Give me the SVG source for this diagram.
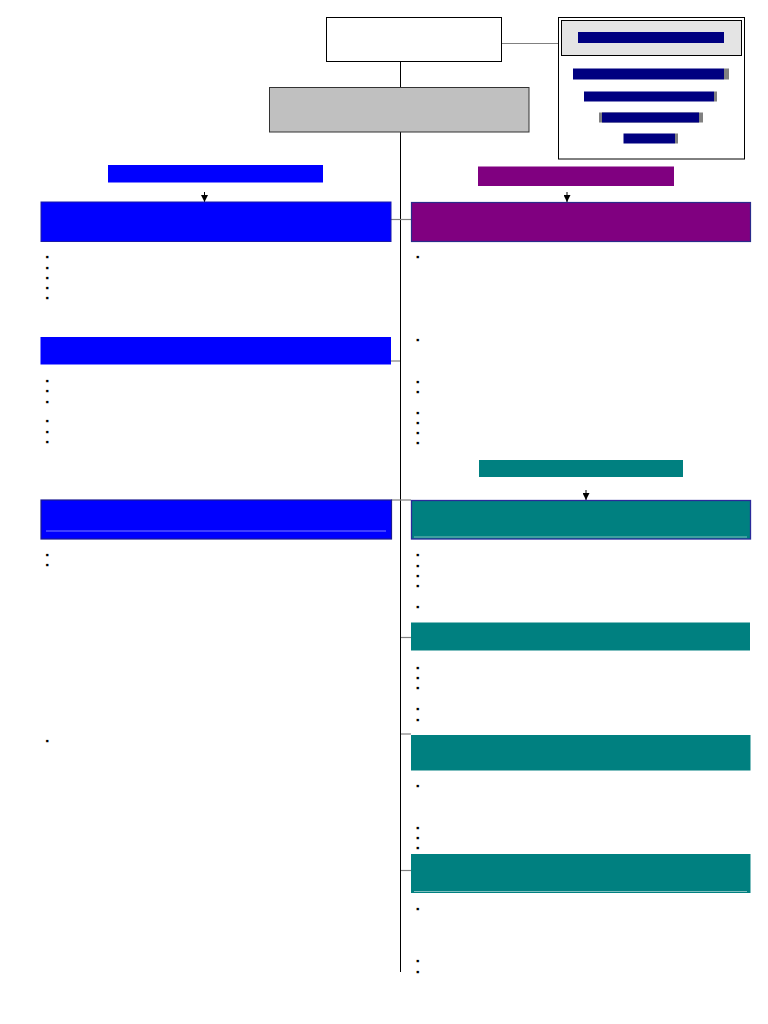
<svg xmlns="http://www.w3.org/2000/svg" width="768" height="1024" viewBox="0 0 768 1024">
<style>
.conn{stroke:#000;stroke-width:1;fill:none}
.gconn{stroke:#808080;stroke-width:1.2;fill:none}
.blue{fill:#0000ff}
.purple{fill:#800080}
.teal{fill:#008080}
.navy{fill:#000080}
.shadow{fill:#808080}
.b{font-family:"Liberation Sans",Arial,sans-serif;font-size:9.5px;fill:#000}
</style>
<defs>
<marker id="ah" viewBox="0 0 10 10" refX="10" refY="5" markerWidth="7" markerHeight="7" markerUnits="userSpaceOnUse" orient="auto">
<path d="M0,0 L10,5 L0,10 z" fill="#000"/>
</marker>
</defs>
<rect width="768" height="1024" fill="#fff"/>

<g id="connectors">
<line class="conn" x1="400.5" y1="61" x2="400.5" y2="87"/>
<line class="conn" x1="400.5" y1="132" x2="400.5" y2="972"/>
<line class="gconn" x1="501" y1="43.5" x2="558" y2="43.5"/>
<line class="gconn" x1="391" y1="219.5" x2="411" y2="219.5"/>
<line class="gconn" x1="391" y1="361" x2="400" y2="361"/>
<line class="gconn" x1="391" y1="500" x2="411" y2="500"/>
<line class="gconn" x1="401" y1="637.5" x2="411" y2="637.5"/>
<line class="gconn" x1="401" y1="734" x2="411" y2="734"/>
<line class="gconn" x1="401" y1="870.5" x2="411" y2="870.5"/>
<line class="conn" x1="204.5" y1="192" x2="204.5" y2="202" marker-end="url(#ah)"/>
<line class="conn" x1="567" y1="192" x2="567" y2="202" marker-end="url(#ah)"/>
<line class="conn" x1="586" y1="490" x2="586" y2="500" marker-end="url(#ah)"/>
</g>

<g id="top">
<rect x="326.5" y="17.5" width="175" height="44" fill="#fff" stroke="#000" stroke-width="1"/>
</g>

<g id="legend">
<rect x="558.5" y="17.5" width="186" height="141.5" fill="#fff" stroke="#000" stroke-width="1"/>
<rect x="561.5" y="20.5" width="180" height="35" fill="#e4e4e4" stroke="#000" stroke-width="1"/>
<rect class="navy" x="578" y="32" width="146" height="11"/>
<rect class="shadow" x="724" y="68.5" width="5" height="11"/>
<rect class="navy" x="573" y="68.5" width="151" height="11"/>
<rect class="shadow" x="714" y="91.5" width="3" height="10"/>
<rect class="navy" x="584" y="91.5" width="130" height="10"/>
<rect class="shadow" x="599" y="112.5" width="104" height="10"/>
<rect class="navy" x="602" y="112.5" width="97" height="10"/>
<rect class="shadow" x="675" y="133.5" width="3" height="10"/>
<rect class="navy" x="623.5" y="133.5" width="51.5" height="10"/>
</g>

<g id="center">
<rect x="269.5" y="87.5" width="259.5" height="44.5" fill="#c0c0c0" stroke="#333" stroke-width="1"/>
</g>

<g id="label-left">
<rect class="blue" x="108" y="165" width="215" height="17.5"/>
</g>
<g id="label-right">
<rect class="purple" x="478" y="166.5" width="196" height="19.5"/>
</g>
<g id="label-teal">
<rect class="teal" x="479" y="460" width="204" height="17"/>
</g>

<g id="left-1">
<rect class="blue" x="41" y="202" width="350" height="39.5" stroke="#1a1aa8" stroke-width="1"/>
</g>
<g id="left-2">
<rect class="blue" x="40.5" y="337" width="350.5" height="27.5"/>
</g>
<g id="left-3">
<rect class="blue" x="41" y="500" width="350.5" height="39" stroke="#1a1a90" stroke-width="1.2"/>
<line x1="46" y1="531" x2="386" y2="531" stroke="#7f7fff" stroke-width="1"/>
</g>

<g id="right-1">
<rect class="purple" x="411.5" y="202.5" width="339" height="39" stroke="#2a2a8a" stroke-width="1.2"/>
</g>
<g id="right-2">
<rect class="teal" x="411.5" y="500.5" width="339" height="38.5" stroke="#2a2a9a" stroke-width="1.3"/>
<line x1="414" y1="537" x2="747" y2="537" stroke="#7fbfbf" stroke-width="1"/>
</g>
<g id="right-3">
<rect class="teal" x="411" y="622.5" width="339" height="28"/>
</g>
<g id="right-4">
<rect class="teal" x="411" y="735" width="339.5" height="35.5"/>
</g>
<g id="right-5">
<rect class="teal" x="411" y="854" width="339.5" height="39"/>
<line x1="414" y1="891.5" x2="747" y2="891.5" stroke="#7fbfbf" stroke-width="1"/>
</g>

<g id="bullets">
<text class="b" x="45.5" y="260">▪</text>
<text class="b" x="45.5" y="270.5">▪</text>
<text class="b" x="45.5" y="280.5">▪</text>
<text class="b" x="45.5" y="291">▪</text>
<text class="b" x="45.5" y="301">▪</text>
<text class="b" x="45.5" y="384">▪</text>
<text class="b" x="45.5" y="394">▪</text>
<text class="b" x="45.5" y="404.5">▪</text>
<text class="b" x="45.5" y="424">▪</text>
<text class="b" x="45.5" y="434.5">▪</text>
<text class="b" x="45.5" y="445">▪</text>
<text class="b" x="45.5" y="557.5">▪</text>
<text class="b" x="45.5" y="568">▪</text>
<text class="b" x="45.5" y="743.5">▪</text>

<text class="b" x="416" y="260">▪</text>
<text class="b" x="416" y="343">▪</text>
<text class="b" x="416" y="384.5">▪</text>
<text class="b" x="416" y="394.5">▪</text>
<text class="b" x="416" y="415.5">▪</text>
<text class="b" x="416" y="425.5">▪</text>
<text class="b" x="416" y="436">▪</text>
<text class="b" x="416" y="446">▪</text>
<text class="b" x="416" y="558">▪</text>
<text class="b" x="416" y="568.5">▪</text>
<text class="b" x="416" y="578.5">▪</text>
<text class="b" x="416" y="589">▪</text>
<text class="b" x="416" y="610">▪</text>
<text class="b" x="416" y="671">▪</text>
<text class="b" x="416" y="681">▪</text>
<text class="b" x="416" y="691">▪</text>
<text class="b" x="416" y="712">▪</text>
<text class="b" x="416" y="722.5">▪</text>
<text class="b" x="416" y="789">▪</text>
<text class="b" x="416" y="830.5">▪</text>
<text class="b" x="416" y="840.5">▪</text>
<text class="b" x="416" y="850.5">▪</text>
<text class="b" x="416" y="912">▪</text>
<text class="b" x="416" y="964">▪</text>
<text class="b" x="416" y="974.5">▪</text>
</g>
</svg>
